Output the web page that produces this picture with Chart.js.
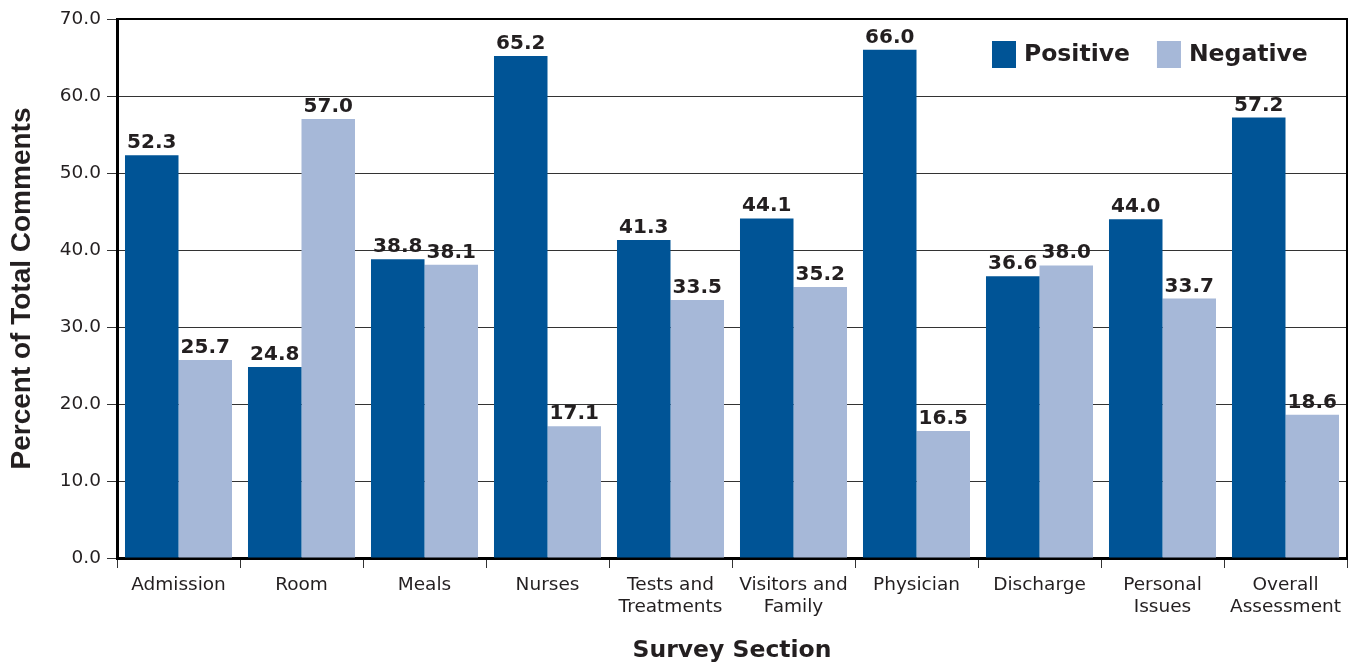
<!DOCTYPE html>
<html>
<head>
<meta charset="utf-8">
<title>Survey Section Comments</title>
<script src="https://cdn.jsdelivr.net/npm/chart.js@4.4.0/dist/chart.umd.min.js"></script>
<style>
    html, body { margin: 0; padding: 0; background: #ffffff; }
    canvas { display: block; }
</style>
</head>
<body>
<canvas id="survey-chart" width="1358" height="662"></canvas>
<script>
// 차트 데이터
const categories = [
    'Admission', 'Room', 'Meals', 'Nurses', ['Tests and', 'Treatments'],
    ['Visitors and', 'Family'], 'Physician', 'Discharge', ['Personal', 'Issues'],
    ['Overall', 'Assessment']
];
const positiveValues = [52.3, 24.8, 38.8, 65.2, 41.3, 44.1, 66.0, 36.6, 44.0, 57.2];
const negativeValues = [25.7, 57.0, 38.1, 17.1, 33.5, 35.2, 16.5, 38.0, 33.7, 18.6];
const seriesNames = ['Positive', 'Negative'];
const yMin = 0;
const yMax = 70;
const yStep = 10;

const textColor = '#231f20';
const positiveColor = '#005496';
const negativeColor = '#a6b8d8';

Chart.defaults.font.family = "'DejaVu Sans', Verdana, sans-serif";
Chart.defaults.color = textColor;

// 막대 위에 값 표시
const valueLabels = {
    id: 'valueLabels',
    afterDatasetsDraw(chart) {
        const ctx = chart.ctx;
        ctx.save();
        ctx.font = "bold 20px 'DejaVu Sans'";
        ctx.fillStyle = textColor;
        ctx.textAlign = 'center';
        ctx.textBaseline = 'alphabetic';
        chart.data.datasets.forEach((ds, i) => {
            chart.getDatasetMeta(i).data.forEach((bar, j) => {
                ctx.fillText(ds.data[j].toFixed(1), bar.x, bar.y - 7);
            });
        });
        ctx.restore();
    }
};

// 플롯 영역 위쪽/오른쪽 테두리
const frame = {
    id: 'frame',
    afterDraw(chart) {
        const { ctx, chartArea } = chart;
        ctx.save();
        ctx.strokeStyle = '#000';
        ctx.lineWidth = 2;
        ctx.beginPath();
        ctx.moveTo(chartArea.left, chartArea.top);
        ctx.lineTo(chartArea.right, chartArea.top);
        ctx.lineTo(chartArea.right, chartArea.bottom);
        ctx.stroke();
        ctx.restore();
    }
};

// 플롯 안쪽 오른쪽 위 범례
const insideLegend = {
    id: 'insideLegend',
    afterDraw(chart) {
        const { ctx, chartArea } = chart;
        ctx.save();
        ctx.font = "bold 23.5px 'DejaVu Sans'";
        ctx.textBaseline = 'middle';
        ctx.textAlign = 'left';
        let x = chartArea.right - 355;
        const y = chartArea.top + 22;
        chart.data.datasets.forEach(ds => {
            ctx.fillStyle = ds.backgroundColor;
            ctx.fillRect(x, y, 24, 27);
            ctx.fillStyle = textColor;
            ctx.fillText(ds.label, x + 32, y + 14);
            x += 32 + ctx.measureText(ds.label).width + 27;
        });
        ctx.restore();
    }
};

new Chart(document.getElementById('survey-chart'), {
    type: 'bar',
    data: {
        labels: categories,
        datasets: [
            { label: seriesNames[0], data: positiveValues, backgroundColor: positiveColor },
            { label: seriesNames[1], data: negativeValues, backgroundColor: negativeColor }
        ]
    },
    options: {
        responsive: false,
        animation: false,
        layout: { padding: { top: 19, right: 11, bottom: 0, left: 0 } },
        datasets: {
            bar: { categoryPercentage: 0.87, barPercentage: 1.0 }
        },
        plugins: {
            legend: { display: false },
            tooltip: { enabled: false }
        },
        scales: {
            x: {
                grid: {
                    offset: true,
                    drawOnChartArea: false,
                    drawTicks: true,
                    tickLength: 10,
                    color: '#333'
                },
                border: { color: '#000', width: 3 },
                ticks: {
                    padding: 6,
                    maxRotation: 0,
                    autoSkip: false,
                    color: textColor,
                    font: { size: 18.5, lineHeight: 1.2 }
                },
                title: {
                    display: true,
                    text: 'Survey Section',
                    color: textColor,
                    padding: { top: 0, bottom: -3 },
                    font: { size: 23.5, weight: 'bold' }
                },
                afterFit(scale) { scale.height = 104; }
            },
            y: {
                min: yMin,
                max: yMax,
                grid: {
                    color: '#333',
                    lineWidth: 1,
                    tickLength: 10
                },
                border: { color: '#000', width: 3 },
                ticks: {
                    stepSize: yStep,
                    padding: 6,
                    color: textColor,
                    font: { size: 18.5 },
                    callback: v => Number(v).toFixed(1)
                },
                title: {
                    display: true,
                    text: 'Percent of Total Comments',
                    color: textColor,
                    padding: { top: 5, bottom: 0 },
                    font: { family: "'Liberation Sans', Arial, sans-serif", size: 28, weight: 'bold' }
                },
                afterFit(scale) { scale.width = 117; }
            }
        }
    },
    plugins: [valueLabels, frame, insideLegend]
});
</script>
</body>
</html>
